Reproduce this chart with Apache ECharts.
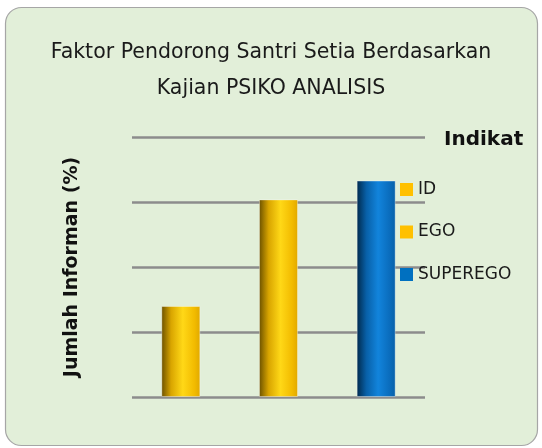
<!DOCTYPE html>
<html>
<head>
<meta charset="utf-8">
<script src="https://cdn.jsdelivr.net/npm/echarts@6/dist/echarts.min.js"></script>
<style>
  html, body { margin: 0; padding: 0; background: #ffffff; }
  #chart { width: 542px; height: 448px; }
</style>
</head>
<body>
<div id="chart"></div>
<script>
// data (y axis has no labels, 0-40 scale assumed)
var categories = ['ID', 'EGO', 'SUPEREGO'];
var values = [14, 30.4, 33.3];
var yTicks = [0, 10, 20, 30, 40];

var gold = new echarts.graphic.LinearGradient(0, 0, 1, 0, [
    { offset: 0, color: '#6a5000' },
    { offset: 0.25, color: '#d9a500' },
    { offset: 0.55, color: '#ffd817' },
    { offset: 0.85, color: '#f2bb00' },
    { offset: 1, color: '#e0a800' }
]);
var blue = new echarts.graphic.LinearGradient(0, 0, 1, 0, [
    { offset: 0, color: '#00284a' },
    { offset: 0.25, color: '#0860a8' },
    { offset: 0.55, color: '#1284dc' },
    { offset: 0.85, color: '#0a6cbc' },
    { offset: 1, color: '#0860a8' }
]);
var fills = [gold, gold, blue];
var legendColors = ['#ffc000', '#ffc000', '#0070c0'];

// one series per indicator, each only in its own slot
var series = categories.map(function (name, i) {
    var d = categories.map(function (c, j) { return j === i ? values[i] : '-'; });
    return {
        name: name,
        type: 'bar',
        stack: 'all',
        barWidth: 39,
        data: d,
        itemStyle: { color: fills[i], borderColor: 'rgba(255,255,255,0.35)', borderWidth: 1 },
        emphasis: { disabled: true }
    };
});

var chart = echarts.init(document.getElementById('chart'));
chart.setOption({
    animation: false,
    backgroundColor: '#ffffff',
    graphic: [
        {
            type: 'rect',
            shape: { x: 5.5, y: 7.5, width: 532, height: 438, r: 16 },
            style: { fill: '#e2efd9', stroke: '#a6a6a6', lineWidth: 1.2 },
            z: -10
        },
        {
            type: 'text',
            left: 444, top: 130,
            style: { text: 'Indikat', font: 'bold 20px "DejaVu Sans", sans-serif', fill: '#111' }
        }
    ],
    title: {
        text: 'Faktor Pendorong Santri Setia Berdasarkan\nKajian PSIKO ANALISIS',
        left: 'center',
        top: 30,
        textStyle: {
            fontFamily: '"DejaVu Sans", sans-serif',
            fontWeight: 'normal',
            fontSize: 20.5,
            lineHeight: 36,
            color: '#1a1a1a'
        }
    },
    legend: {
        data: categories.map(function (c, i) {
            return { name: c, itemStyle: { color: legendColors[i], borderWidth: 0 } };
        }),
        orient: 'vertical',
        left: 395,
        top: 176,
        itemWidth: 13,
        itemHeight: 13,
        itemGap: 25.5,
        icon: 'rect',
        textStyle: { fontSize: 17, fontFamily: '"DejaVu Sans", sans-serif', color: '#1a1a1a' }
    },
    grid: { left: 132, right: 117, top: 137, bottom: 51 },
    xAxis: {
        type: 'category',
        data: categories,
        axisLine: { show: false },
        axisTick: { show: false },
        axisLabel: { show: false }
    },
    yAxis: {
        type: 'value',
        min: yTicks[0],
        max: yTicks[yTicks.length - 1],
        interval: 10,
        name: 'Jumlah Informan (%)',
        nameLocation: 'middle',
        nameRotate: 90,
        nameGap: 50,
        nameTextStyle: { fontSize: 19, fontWeight: 'bold', fontFamily: '"DejaVu Sans", sans-serif', color: '#111' },
        axisLabel: { show: false },
        axisLine: { show: false },
        axisTick: { show: false },
        splitLine: { lineStyle: { color: '#8c8c8c', width: 2.5 } }
    },
    series: series
});
</script>
</body>
</html>
